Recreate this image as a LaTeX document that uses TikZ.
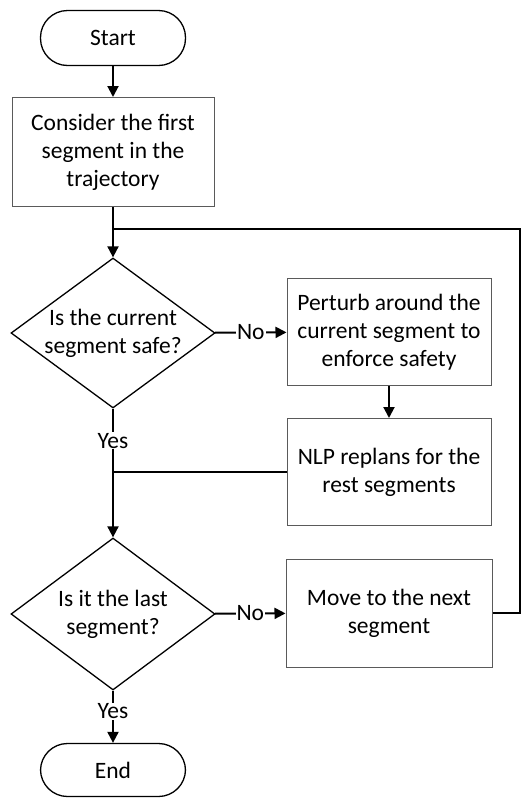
\documentclass[tikz,border=0pt]{standalone}
\usepackage{fontspec}
\setmainfont{Carlito}
\usetikzlibrary{shapes.geometric,arrows.meta}
\definecolor{boxgray}{HTML}{5A5A5A}

\begin{document}
\begin{tikzpicture}[x=1pt,y=-1pt,font=\fontsize{23.5}{28}\selectfont,>={Triangle[length=11pt,width=11pt]},
  term/.style={draw,line width=1.3pt,rounded corners=27pt,minimum width=145pt,minimum height=55pt,align=center},
  proc/.style={draw=boxgray,line width=1pt,minimum width=204pt,minimum height=107pt,align=center,inner sep=0pt},
  cond/.style={draw,line width=1.3pt,diamond,aspect=1.37,minimum width=204pt,minimum height=150pt,inner sep=0pt,align=center},
  flow/.style={line width=2pt},
  lbl/.style={fill=white,inner sep=1pt}]
  \useasboundingbox (0,0) rectangle (530,809);
  \node[term] (start) at (113,38) {Start};
  \node[proc,minimum width=202pt,minimum height=109pt] (first) at (113,152) {Consider the first\\segment in the\\trajectory};
  \node[cond] (safe) at (113,333) {Is the current\\segment safe?};
  \node[proc] (perturb) at (389,332) {Perturb around the\\current segment to\\enforce safety};
  \node[proc] (replan) at (389,472) {NLP replans for the\\rest segments};
  \node[cond,minimum height=152pt] (last) at (113,614) {Is it the last\\segment?};
  \node[proc,minimum width=206pt,minimum height=108pt] (move) at (389,613) {Move to the next\\segment};
  \node[term,minimum height=53pt] (end) at (113,770) {End};
  \coordinate (loop) at (520,229);

  \draw[->,flow] (start) -- (first);
  \draw[->,flow] (first) -- (safe);
  \draw[->,flow] (safe) -- node[lbl]{No} (perturb);
  \draw[->,flow] (perturb) -- (replan);
  \draw[->,flow] (safe) -- node[lbl,pos=0.25]{Yes} (last);
  \draw[flow] (replan) -- (replan -| last);
  \draw[->,flow] (last) -- node[lbl]{No} (move);
  \draw[->,flow] (last) -- node[lbl,pos=0.4]{Yes} (end);
  \draw[flow] (move) -| (loop) -- (loop -| first);
\end{tikzpicture}
\end{document}
